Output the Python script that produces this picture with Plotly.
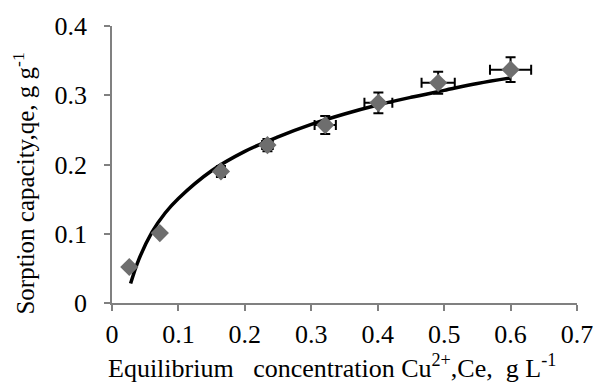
import plotly.graph_objects as go

# Equilibrium data (Ce in g/L, qe in g/g) with measurement uncertainty
ce = [0.026, 0.072, 0.164, 0.234, 0.321, 0.401, 0.491, 0.600]
qe = [0.052, 0.101, 0.190, 0.228, 0.257, 0.289, 0.318, 0.337]
ce_err = [0.002, 0.004, 0.006, 0.008, 0.016, 0.021, 0.025, 0.031]
qe_err = [0.003, 0.004, 0.008, 0.009, 0.013, 0.015, 0.016, 0.018]

# Isotherm fit curve
fit_x = [0.028, 0.04, 0.06, 0.08, 0.10, 0.15, 0.20, 0.25, 0.30, 0.35,
         0.40, 0.45, 0.50, 0.55, 0.60]
fit_y = [0.028, 0.062, 0.102, 0.130, 0.151, 0.191, 0.219, 0.240, 0.258,
         0.273, 0.286, 0.297, 0.307, 0.317, 0.325]

x_ticks = [0, 0.1, 0.2, 0.3, 0.4, 0.5, 0.6, 0.7]
y_ticks = [0, 0.1, 0.2, 0.3, 0.4]

serif = "'Liberation Serif', 'Times New Roman', serif"
nb = "\u00a0"

fig = go.Figure()
fig.add_trace(go.Scatter(
    x=fit_x, y=fit_y, mode="lines", line=dict(color="black", width=3.5, shape="spline"),
    hoverinfo="skip", showlegend=False,
))
fig.add_trace(go.Scatter(
    x=ce, y=qe, mode="markers",
    marker=dict(symbol="diamond", size=14, color="#6e6e6e"),
    error_x=dict(type="data", array=ce_err, color="black", thickness=2, width=5),
    error_y=dict(type="data", array=qe_err, color="black", thickness=2, width=5),
    showlegend=False,
))

axis_common = dict(
    showgrid=False, zeroline=False, showline=True, linecolor="#808080", linewidth=1.5,
    ticks="outside", ticklen=6, tickcolor="#808080", tickwidth=1.5,
    tickfont=dict(family=serif, size=26, color="black"),
)
fig.update_xaxes(range=[0, 0.7], tickvals=x_ticks, ticktext=[f"{v:g}" for v in x_ticks],
                 ticklabelstandoff=1, **axis_common)
fig.update_yaxes(range=[0, 0.4], tickvals=y_ticks, ticktext=[f"{v:g}" for v in y_ticks],
                 ticklabelstandoff=12, **axis_common)

fig.add_annotation(
    text=f"Equilibrium{nb*3}concentration Cu<sup>2+</sup>,Ce,{nb*2}g L<sup>-1</sup>",
    xref="paper", yref="paper", x=0.473, y=-0.228, yanchor="middle", xanchor="center",
    showarrow=False, font=dict(family=serif, size=26, color="black"),
)
fig.add_annotation(
    text="Sorption capacity,qe, g g<sup>-1</sup>",
    xref="paper", yref="paper", x=-0.19, y=0.43, xanchor="center", yanchor="middle",
    textangle=-90, showarrow=False, font=dict(family=serif, size=25, color="black"),
)

fig.update_layout(
    width=605, height=385, margin=dict(l=112, r=17, t=26, b=82),
    paper_bgcolor="white", plot_bgcolor="white",
    font=dict(family=serif),
)
fig.write_html("out.html")
